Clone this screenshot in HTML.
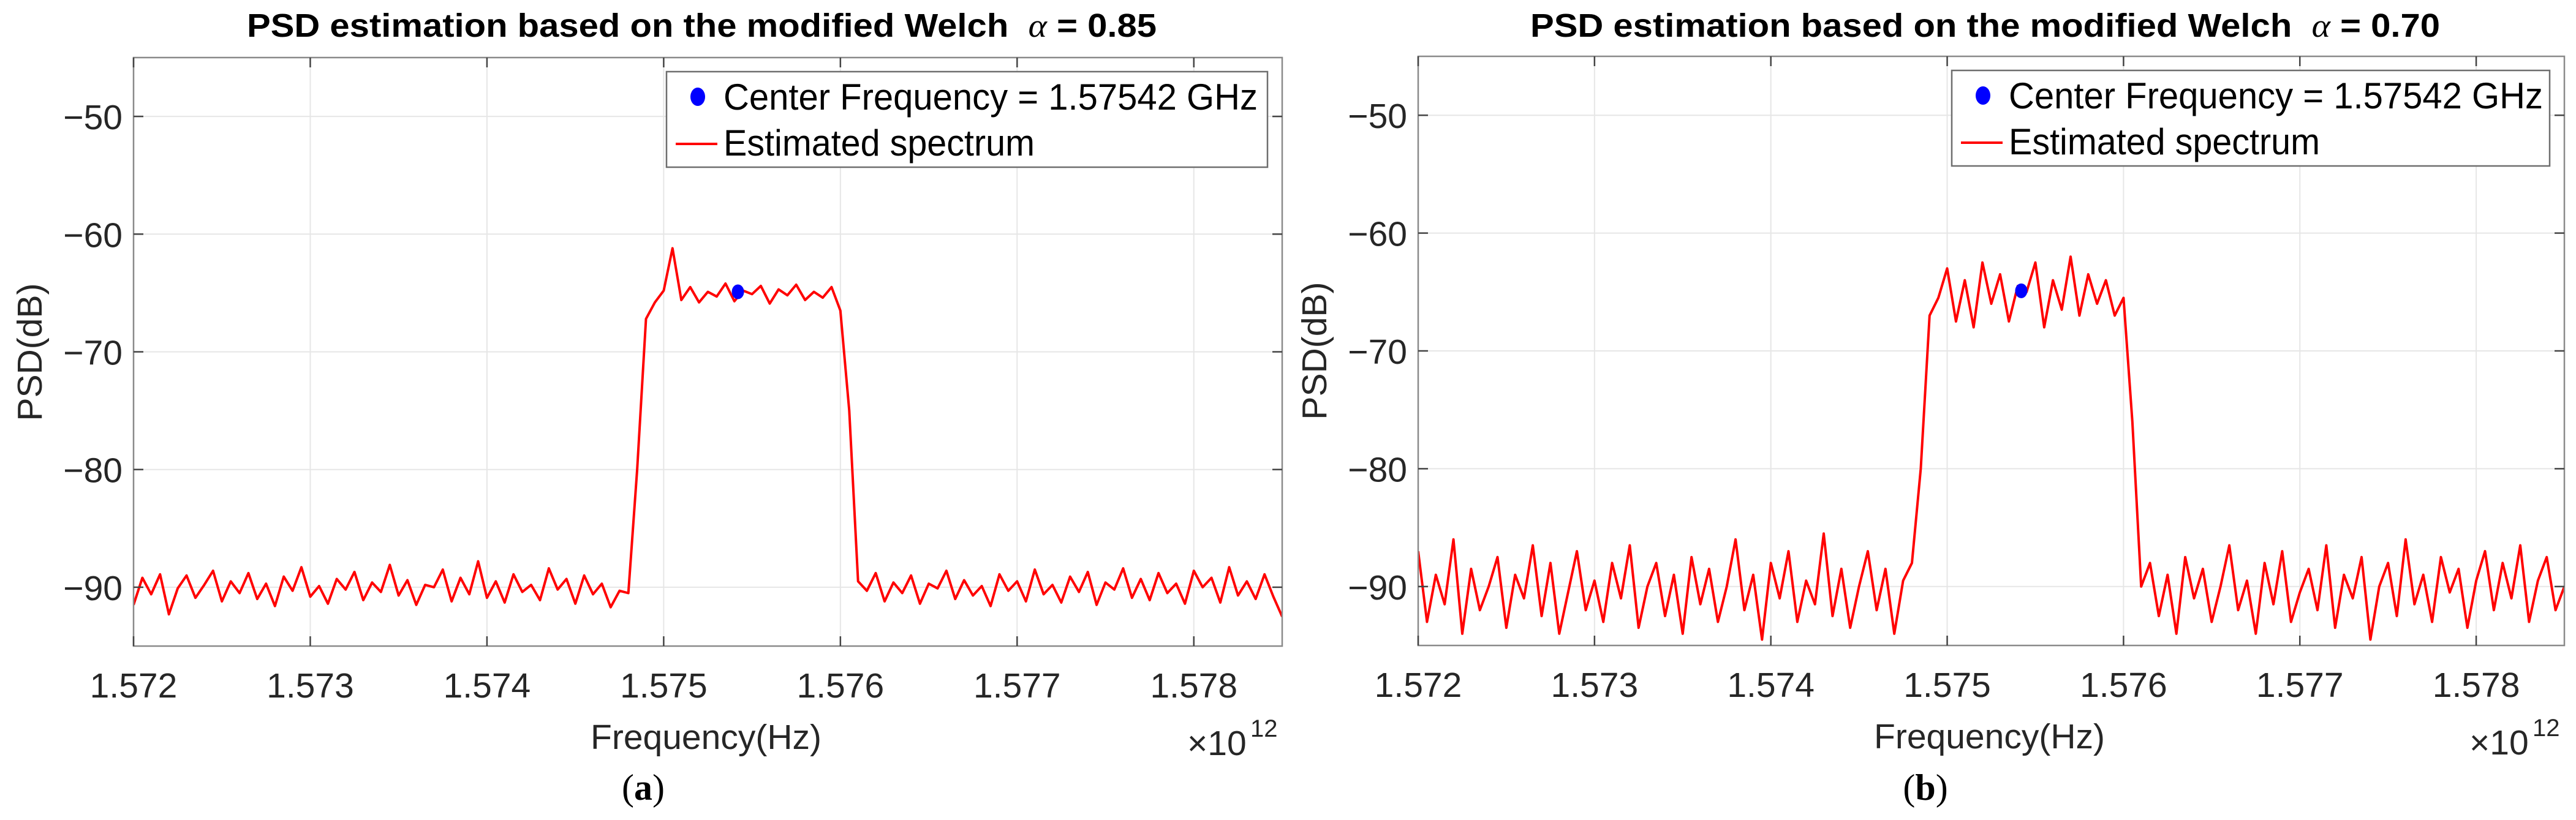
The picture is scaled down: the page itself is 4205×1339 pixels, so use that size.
<!DOCTYPE html>
<html><head><meta charset="utf-8">
<style>
html,body{margin:0;padding:0;background:#fff;}
svg{display:block;font-family:"Liberation Sans",Arial,sans-serif;}
</style></head>
<body>
<svg id="fig" width="4205" height="1339" viewBox="0 0 4205 1339" xmlns="http://www.w3.org/2000/svg">
<rect width="4205" height="1339" fill="#fff"/>
</svg>
<script>
const xTicks = [1.572, 1.573, 1.574, 1.575, 1.576, 1.577, 1.578];
const xTickLabels = ["1.572", "1.573", "1.574", "1.575", "1.576", "1.577", "1.578"];
const yTicks = [-50, -60, -70, -80, -90];
const yTickLabels = ["\u221250", "\u221260", "\u221270", "\u221280", "\u221290"];
const xDomain = [1.572, 1.5785];
const yDomain = [-95, -45];
const freqStart = 1.572;
const freqStep = 0.00005;
const centerFreq = [1.57542];
const centerPsdA = [-64.9];
const centerPsdB = [-64.9];
const psdA = [
-91.5,-89.2,-90.6,-88.9,-92.3,-90.1,-89.0,-90.9,-89.8,-88.6,
-91.2,-89.5,-90.5,-88.8,-91.0,-89.7,-91.6,-89.1,-90.3,-88.3,
-90.8,-89.9,-91.4,-89.3,-90.2,-88.7,-91.1,-89.6,-90.4,-88.1,
-90.7,-89.4,-91.5,-89.8,-90.0,-88.5,-91.2,-89.2,-90.6,-87.8,
-90.9,-89.5,-91.3,-88.9,-90.4,-89.8,-91.1,-88.4,-90.2,-89.3,
-91.4,-89.0,-90.6,-89.7,-91.7,-90.3,
-90.5,-80.0,-67.2,-65.8,
-64.8,-61.2,-65.6,-64.5,-65.8,-64.9,-65.3,-64.2,-65.7,-64.8,-65.1,-64.4,-65.9,-64.7,-65.2,-64.3,-65.6,-64.9,-65.4,-64.5,
-66.5,-75.0,-89.5,
-90.3,-88.8,-91.2,-89.6,-90.5,-89.0,-91.4,-89.7,-90.1,-88.6,
-91.0,-89.4,-90.7,-89.9,-91.6,-88.9,-90.3,-89.5,-91.2,-88.5,
-90.6,-89.8,-91.3,-89.1,-90.4,-88.7,-91.5,-89.6,-90.2,-88.4,
-90.9,-89.3,-91.1,-88.8,-90.5,-89.7,-91.4,-88.6,-90.0,-89.2,
-91.3,-88.3,-90.7,-89.5,-91.0,-88.9,-90.8,-92.5
];
const psdB = [
-87,-93,-89,-91.5,-86,-94,-88.5,-92,-90,-87.5,
-93.5,-89,-91,-86.5,-92.5,-88,-94,-90.5,-87,-92,
-89.5,-93,-88,-91,-86.5,-93.5,-90,-88,-92.5,-89,
-94,-87.5,-91.5,-88.5,-93,-90,-86,-92,-89,-94.5,
-88,-91,-87,-93,-89.5,-91.5,-85.5,-92.5,-88.5,-93.5,
-90,-87,-92,-88.5,-94,-89.5,
-88,-80,-67,-65.5,
-63,-67.5,-64,-68,-62.5,-66,-63.5,-67.5,-64.5,-65,-62.5,-68,-64,-66.5,-62,-67,-63.5,-66,-64,-67,
-65.5,-76,-90,
-88,-92.5,-89,-94,-87.5,-91,-88.5,-93,-90,-86.5,
-92,-89.5,-94,-88,-91.5,-87,-93,-90.5,-88.5,-92,
-86.5,-93.5,-89,-91,-87.5,-94.5,-90,-88,-92.5,-86,
-91.5,-89,-93,-87.5,-90.5,-88.5,-93.5,-89.5,-87,-92,
-88,-91,-86.5,-93,-89.5,-87.5,-92,-90
];

const NS = "http://www.w3.org/2000/svg";
const fig = document.getElementById("fig");
function mk(tag, attrs, parent, text){
  const e = document.createElementNS(NS, tag);
  for (const k in attrs) e.setAttribute(k, attrs[k]);
  if (text !== undefined) e.textContent = text;
  (parent || fig).appendChild(e);
  return e;
}

function panel(cfg){
  const g = mk("g", {});
  
  
  const L = cfg.x0, R = cfg.x1, T = cfg.y0, B = cfg.y1;
  const sx = v => L + (v - xDomain[0]) / (xDomain[1] - xDomain[0]) * (R - L);
  const sy = v => B - (v - yDomain[0]) / (yDomain[1] - yDomain[0]) * (B - T);

  xTicks.forEach(t => {
    const l = mk("line", {x1: sx(t), x2: sx(t), y1: T, y2: B, stroke: "#e6e6e6", "stroke-width": 2}, g);
    
    
  });
  yTicks.forEach(t => {
    const l = mk("line", {x1: L, x2: R, y1: sy(t), y2: sy(t), stroke: "#e6e6e6", "stroke-width": 2}, g);
    
    
  });

  const pts = cfg.data.map((v, i) => sx(freqStart + i * freqStep).toFixed(1) + "," + sy(v).toFixed(1)).join(" ");
  const cp = mk("clipPath", {id: cfg.name + "-clip"}, g);
  mk("rect", {x: L, y: T, width: R - L, height: B - T}, cp);
  const line = mk("polyline", {points: pts, fill: "none", stroke: "#ff0000", "stroke-width": 4, "stroke-linejoin": "round", "clip-path": "url(#" + cfg.name + "-clip)"}, g);
  
  

  const dot = mk("ellipse", {cx: sx(centerFreq[0]), cy: sy(cfg.center[0]), rx: 10, ry: 12, fill: "#0000ff"}, g);
  
  

  const box = mk("rect", {x: L, y: T, width: R - L, height: B - T, fill: "none", stroke: "#8a8a8a", "stroke-width": 2.5}, g);
  
  

  xTicks.forEach((t, i) => {
    mk("line", {x1: sx(t), x2: sx(t), y1: B, y2: B - 16, stroke: "#444", "stroke-width": 2.5}, g);
    mk("line", {x1: sx(t), x2: sx(t), y1: T, y2: T + 16, stroke: "#444", "stroke-width": 2.5}, g);
    const tl = mk("text", {x: sx(t), y: B + 84, "font-size": 57, "text-anchor": "middle", fill: "#262626"}, g, xTickLabels[i]);
    
    
  });
  yTicks.forEach((t, i) => {
    mk("line", {x1: L, x2: L + 16, y1: sy(t), y2: sy(t), stroke: "#444", "stroke-width": 2.5}, g);
    mk("line", {x1: R, x2: R - 16, y1: sy(t), y2: sy(t), stroke: "#444", "stroke-width": 2.5}, g);
    const tl = mk("text", {x: L - 18, y: sy(t) + 21, "font-size": 57, "text-anchor": "end", fill: "#262626"}, g, yTickLabels[i]);
    
    
  });

  const title = mk("text", {x: (L + R) / 2 - 10, y: 60, "font-size": 54, "font-weight": "bold", "text-anchor": "middle", fill: "#000", textLength: 1485, lengthAdjust: "spacingAndGlyphs"}, g);
  
  
  title.textContent = "PSD estimation based on the modified Welch";
  mk("tspan", {dx: 30, "font-family": "Liberation Serif, serif", "font-style": "italic", "font-weight": "normal"}, title, "\u03b1");
  mk("tspan", {}, title, " = " + cfg.alpha);

  const xl = mk("text", {x: (L + R) / 2 - 3, y: B + 168, "font-size": 57, "text-anchor": "middle", fill: "#262626"}, g, "Frequency(Hz)");
  
  
  const yl = mk("text", {x: 0, y: 0, "font-size": 57, "text-anchor": "middle", fill: "#262626", transform: "translate(" + (L - 150) + "," + (T + 481) + ") rotate(-90)"}, g, "PSD(dB)");
  
  
  const ex = mk("text", {x: R - 155, y: B + 178, "font-size": 57, fill: "#262626"}, g, "\u00d710");
  
  
  mk("text", {x: R - 52, y: B + 148, "font-size": 40, fill: "#262626"}, g, "12");

  const lg = mk("g", {}, g);
  
  
  mk("rect", {x: cfg.lx, y: T + 23, width: R - 24 - cfg.lx, height: 156, fill: "#fff", stroke: "#6e6e6e", "stroke-width": 2.5}, lg);
  const ld = mk("ellipse", {cx: cfg.lx + 51, cy: T + 64, rx: 12, ry: 15, fill: "#0000ff"}, lg);
  
  
  mk("text", {x: cfg.lx + 93, y: T + 85, "font-size": 60, fill: "#000", textLength: 872, lengthAdjust: "spacingAndGlyphs"}, lg, "Center Frequency = 1.57542 GHz");
  const ll = mk("line", {x1: cfg.lx + 15, x2: cfg.lx + 83, y1: T + 141, y2: T + 141, stroke: "#ff0000", "stroke-width": 4}, lg);
  
  
  mk("text", {x: cfg.lx + 93, y: T + 160, "font-size": 60, fill: "#000", textLength: 508, lengthAdjust: "spacingAndGlyphs"}, lg, "Estimated spectrum");

  const cap = mk("text", {x: cfg.capx, y: 1306, "font-size": 60, "font-family": "Liberation Serif, serif", "text-anchor": "middle", fill: "#000"}, g);
  
  
  mk("tspan", {}, cap, "(");
  mk("tspan", {"font-weight": "bold"}, cap, cfg.letter);
  mk("tspan", {}, cap, ")");
}

panel({name: "panel-a", x0: 218, x1: 2093, y0: 94, y1: 1055, data: psdA, center: centerPsdA, alpha: "0.85", lx: 1088, capx: 1050, letter: "a"});
panel({name: "panel-b", x0: 2315, x1: 4186, y0: 92, y1: 1054, data: psdB, center: centerPsdB, alpha: "0.70", lx: 3186, capx: 3143, letter: "b"});
</script>
</body></html>
